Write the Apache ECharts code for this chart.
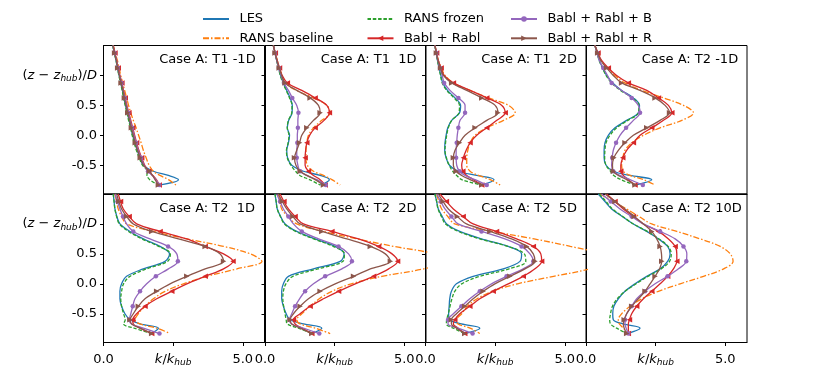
<!DOCTYPE html>
<html>
<head>
<meta charset="utf-8">
<script src="https://cdn.jsdelivr.net/npm/echarts@6/dist/echarts.min.js"></script>
<style>
  html, body { margin: 0; padding: 0; background: #fff; }
  #main { width: 830px; height: 386px; }
</style>
</head>
<body>
<div id="main"></div>
<script>
// heights (z - z_hub)/D at which the profiles were read
const zLevels = [1.5, 1.375, 1.25, 1.125, 1.0, 0.875, 0.75, 0.625, 0.5, 0.375, 0.25, 0.125, 0.0,
  -0.125, -0.25, -0.375, -0.5, -0.6, -0.67, -0.74, -0.83];
// rows of zLevels that carry a marker
const markerRows = [1, 3, 5, 7, 9, 11, 13, 15, 17, 20];

const panelTitles = ["Case A: T1 -1D", "Case A: T1  1D", "Case A: T1  2D", "Case A: T2 -1D",
  "Case A: T2  1D", "Case A: T2  2D", "Case A: T2  5D", "Case A: T2 10D"];
const seriesNames = ["LES", "RANS baseline", "RANS frozen", "Babl + Rabl", "Babl + Rabl + B", "Babl + Rabl + R"];
const xTicks = [0, 2.5, 5];
const yTicks = [-0.5, 0, 0.5, 1.0];

// k/k_hub, one row per panel
const les = [
  [0.33,0.39,0.45,0.5,0.56,0.62,0.68,0.73,0.79,0.85,0.92,0.98,1.05,1.12,1.21,1.31,1.43,1.79,2.33,2.69,1.97],
  [0.3,0.36,0.42,0.49,0.56,0.66,0.78,0.9,0.98,0.97,0.85,0.8,0.88,0.84,0.78,0.81,0.96,1.38,1.98,2.31,1.98],
  [0.34,0.38,0.43,0.49,0.55,0.62,0.79,1.06,1.26,1.22,0.94,0.8,0.74,0.7,0.69,0.74,0.86,1.18,1.84,2.46,2.02],
  [0.32,0.4,0.48,0.6,0.74,0.96,1.28,1.7,1.92,1.88,1.46,1.04,0.8,0.68,0.65,0.65,0.72,0.98,1.58,2.36,1.76],
  [0.35,0.38,0.41,0.48,0.59,0.95,1.43,2.03,2.37,2.21,1.43,0.83,0.65,0.59,0.59,0.65,0.77,0.95,1.31,1.97,1.73],
  [0.36,0.4,0.44,0.56,0.72,1.14,1.8,2.52,2.84,2.7,1.74,0.84,0.66,0.6,0.6,0.66,0.76,0.9,1.38,2.04,1.68],
  [0.34,0.4,0.46,0.6,0.76,1.23,2.01,2.97,3.45,3.39,2.79,1.71,1.11,0.93,0.87,0.85,0.83,0.87,1.29,1.95,1.41],
  [0.44,0.68,0.92,1.3,1.7,2.18,2.6,2.93,3.02,2.93,2.66,2.18,1.76,1.4,1.16,1.0,0.96,0.98,1.34,1.94,1.46]
];
const ransBaseline = [
  [0.35,0.42,0.5,0.56,0.62,0.69,0.76,0.83,0.9,0.98,1.07,1.17,1.26,1.35,1.43,1.53,1.64,1.79,2.03,2.33,2.6],
  [0.3,0.37,0.44,0.52,0.61,0.72,1.12,1.74,2.22,2.34,2.04,1.74,1.56,1.5,1.47,1.47,1.52,1.74,2.1,2.4,2.7],
  [0.34,0.4,0.46,0.57,0.7,1.0,1.6,2.26,2.98,3.22,2.8,2.2,1.78,1.6,1.52,1.48,1.48,1.6,1.9,2.32,2.68],
  [0.32,0.42,0.53,0.76,1.04,1.4,2.0,2.78,3.5,3.86,3.44,2.66,2.06,1.64,1.4,1.32,1.28,1.34,1.58,2.06,2.48],
  [0.41,0.47,0.53,0.65,0.83,1.79,2.99,4.31,5.27,5.69,4.79,3.71,2.87,2.21,1.79,1.49,1.25,1.13,1.31,1.91,2.39],
  [0.48,0.54,0.6,0.82,1.14,2.1,3.3,4.62,6.06,6.5,5.7,4.2,3.1,2.4,1.95,1.62,1.32,1.14,1.26,1.8,2.34],
  [0.4,0.48,0.58,0.8,1.05,2.4,3.9,5.2,6.3,6.6,5.9,4.6,3.3,2.4,1.85,1.5,1.3,1.11,1.17,1.6,1.95],
  [0.5,0.98,1.46,1.9,2.36,3.26,4.1,4.82,5.18,5.28,4.94,4.22,3.38,2.6,2.0,1.58,1.28,1.16,1.2,1.34,1.52]
];
const ransFrozen = [
  [0.33,0.39,0.45,0.5,0.55,0.61,0.67,0.72,0.78,0.84,0.9,0.97,1.03,1.1,1.18,1.28,1.4,1.57,1.56,1.66,1.97],
  [0.3,0.36,0.42,0.48,0.55,0.64,0.76,0.88,0.97,0.96,0.84,0.8,0.86,0.83,0.77,0.8,0.93,1.1,1.25,1.6,1.98],
  [0.34,0.38,0.43,0.48,0.54,0.6,0.76,1.02,1.22,1.2,0.94,0.82,0.76,0.72,0.7,0.75,0.85,0.98,1.12,1.3,2.02],
  [0.32,0.4,0.47,0.59,0.72,0.92,1.24,1.66,1.9,1.88,1.5,1.1,0.86,0.72,0.68,0.67,0.72,0.88,1.0,1.25,1.76],
  [0.35,0.38,0.41,0.47,0.57,0.9,1.38,1.98,2.4,2.3,1.55,0.95,0.72,0.65,0.62,0.65,0.72,0.78,0.72,1.1,1.73],
  [0.36,0.4,0.44,0.55,0.7,1.1,1.75,2.45,2.85,2.8,1.9,1.0,0.75,0.66,0.64,0.67,0.72,0.76,0.8,1.2,1.68],
  [0.34,0.4,0.45,0.57,0.72,1.18,1.95,2.95,3.55,3.6,3.0,1.95,1.3,1.05,0.95,0.88,0.82,0.76,0.75,1.0,1.41],
  [0.48,0.72,0.95,1.32,1.7,2.2,2.62,2.95,3.06,3.0,2.7,2.22,1.8,1.4,1.12,0.95,0.88,0.85,0.88,1.1,1.46]
];
const bablRabl = [
  [0.35,0.41,0.47,0.53,0.59,0.66,0.72,0.78,0.84,0.91,0.98,1.05,1.12,1.19,1.27,1.37,1.48,1.62,1.77,1.9,2.0],
  [0.3,0.37,0.44,0.52,0.62,0.8,1.32,1.8,2.22,2.31,2.12,1.8,1.6,1.5,1.46,1.44,1.44,1.56,1.74,1.98,2.16],
  [0.34,0.4,0.46,0.56,0.67,1.0,1.6,2.2,2.74,2.86,2.56,2.2,1.84,1.6,1.46,1.36,1.3,1.34,1.48,1.72,2.02],
  [0.32,0.43,0.56,0.8,1.1,1.52,2.18,2.6,2.96,3.08,2.78,2.36,1.94,1.7,1.46,1.32,1.25,1.25,1.34,1.52,1.76],
  [0.53,0.61,0.71,0.92,1.19,2.03,2.99,3.65,4.31,4.65,4.31,3.65,2.99,2.45,1.91,1.49,1.19,1.05,1.07,1.31,1.73],
  [0.54,0.68,0.84,1.08,1.38,2.4,3.36,4.08,4.56,4.76,4.44,3.9,3.24,2.64,2.1,1.62,1.26,1.02,1.08,1.32,1.68],
  [0.52,0.75,1.0,1.35,1.71,2.55,3.27,3.87,4.14,4.17,3.93,3.51,2.97,2.43,1.95,1.59,1.23,1.05,1.0,1.17,1.41],
  [0.74,1.04,1.34,1.7,2.06,2.6,2.96,3.2,3.26,3.26,3.14,2.93,2.66,2.36,2.06,1.82,1.64,1.56,1.52,1.52,1.52]
];
const bablRablB = [
  [0.34,0.4,0.47,0.52,0.58,0.65,0.71,0.77,0.83,0.89,0.96,1.03,1.1,1.17,1.25,1.35,1.46,1.6,1.75,1.88,2.0],
  [0.3,0.36,0.42,0.5,0.58,0.68,0.84,0.98,1.14,1.2,1.18,1.18,1.16,1.16,1.14,1.14,1.18,1.26,1.5,1.86,2.18],
  [0.34,0.39,0.44,0.52,0.6,0.67,0.88,1.18,1.42,1.42,1.24,1.18,1.14,1.12,1.1,1.1,1.12,1.22,1.42,1.78,2.2],
  [0.32,0.4,0.48,0.62,0.77,0.92,1.28,1.64,1.88,1.94,1.7,1.44,1.22,1.08,0.98,0.94,0.92,0.98,1.22,1.58,2.04],
  [0.41,0.5,0.59,0.7,0.83,1.07,1.67,2.32,2.63,2.67,2.33,1.88,1.55,1.31,1.13,1.05,0.98,0.93,1.01,1.43,2.01],
  [0.42,0.54,0.66,0.84,1.02,1.32,1.92,2.64,3.0,3.12,2.76,2.16,1.74,1.44,1.24,1.08,0.96,0.88,0.96,1.38,1.95],
  [0.4,0.55,0.7,0.93,1.17,2.01,2.85,3.45,3.75,3.87,3.51,2.91,2.37,1.95,1.59,1.29,1.0,0.81,0.81,1.17,1.69],
  [0.56,0.89,1.22,1.64,2.06,2.66,3.2,3.5,3.62,3.6,3.32,2.93,2.48,2.12,1.82,1.64,1.46,1.4,1.4,1.44,1.52]
];
const bablRablR = [
  [0.34,0.4,0.46,0.51,0.57,0.63,0.7,0.75,0.81,0.87,0.94,1.0,1.07,1.14,1.22,1.32,1.44,1.65,1.76,1.85,1.97],
  [0.3,0.36,0.43,0.51,0.6,0.72,1.14,1.62,1.92,1.98,1.74,1.5,1.32,1.24,1.14,1.06,1.11,1.26,1.5,1.8,2.1],
  [0.34,0.39,0.45,0.54,0.64,0.94,1.48,2.02,2.5,2.6,2.2,1.78,1.42,1.22,1.06,1.0,1.0,1.1,1.3,1.6,2.02],
  [0.32,0.42,0.53,0.74,0.98,1.28,1.94,2.48,2.84,3.0,2.66,2.18,1.7,1.4,1.16,1.0,0.95,0.98,1.16,1.46,1.76],
  [0.47,0.55,0.65,0.83,1.07,1.73,2.69,3.65,4.19,4.31,3.65,2.99,2.39,1.91,1.49,1.25,1.07,0.95,1.01,1.31,1.73],
  [0.48,0.62,0.78,1.0,1.26,2.04,2.94,3.78,4.32,4.5,3.78,3.18,2.52,1.98,1.56,1.26,1.02,0.9,0.96,1.26,1.68],
  [0.46,0.63,0.82,1.14,1.47,2.31,3.09,3.63,3.87,3.93,3.57,3.03,2.49,2.07,1.71,1.41,1.11,0.93,0.93,1.11,1.41],
  [0.68,1.04,1.4,1.73,2.06,2.36,2.54,2.66,2.71,2.72,2.64,2.48,2.3,2.12,1.88,1.64,1.46,1.37,1.34,1.37,1.46]
];

const curves = [les, ransBaseline, ransFrozen, bablRabl, bablRablB, bablRablR];
const curveStyle = [
  { color: "#1f77b4", dash: "solid", symbol: "none", rotate: 0 },
  { color: "#ff7f0e", dash: [6, 2, 1.5, 2], symbol: "none", rotate: 0 },
  { color: "#2ca02c", dash: [3.5, 1.8], symbol: "none", rotate: 0 },
  { color: "#d62728", dash: "solid", symbol: "triangle", rotate: 90 },
  { color: "#9467bd", dash: "solid", symbol: "circle", rotate: 0 },
  { color: "#8c564b", dash: "solid", symbol: "triangle", rotate: -90 },
];

const FONT = "DejaVu Sans";
const colLeft = [103.5, 265, 425.5, 586];
const rowTop = [45.5, 194];
const panelW = 161;
const panelH = 148.5;

const mathRich = {
  n: { fontFamily: FONT, fontSize: 13, color: "#000", lineHeight: 16 },
  i: { fontFamily: FONT, fontSize: 13, color: "#000", fontStyle: "italic", lineHeight: 16 },
  s: { fontFamily: FONT, fontSize: 9, color: "#000", fontStyle: "italic", lineHeight: 10, verticalAlign: "bottom" },
};

let chart = echarts.init(document.getElementById("main"), null, { renderer: "canvas" });

let grids = [], xAxes = [], yAxes = [], series = [], graphics = [];
for (let p = 0; p < 8; p++) {
  const row = Math.floor(p / 4), col = p % 4;
  grids.push({
    left: colLeft[col], top: rowTop[row], width: panelW, height: panelH,
    show: true, borderColor: "#000", borderWidth: 1, containLabel: false,
  });
  xAxes.push({
    gridIndex: p, type: "value", min: 0, max: 5.78,
    splitLine: { show: false },
    axisLine: { show: true, onZero: false, lineStyle: { color: "#000", width: 1 } },
    axisTick: { show: row === 1, customValues: xTicks, length: 3.5, lineStyle: { color: "#000" } },
    axisLabel: {
      show: row === 1, customValues: xTicks, margin: 9, color: "#000",
      fontFamily: FONT, fontSize: 13, lineHeight: 16,
      formatter: (v) => v === 2.5 ? "{i|k}{n|/}{i|k}{s|hub}" : v.toFixed(1),
      rich: mathRich,
    },
  });
  yAxes.push({
    gridIndex: p, type: "value", min: -0.98, max: 1.5,
    splitLine: { show: false },
    axisLine: { show: true, onZero: false, lineStyle: { color: "#000", width: 1 } },
    axisTick: { show: true, customValues: yTicks, length: 3.5, lineStyle: { color: "#000" } },
    axisLabel: {
      show: col === 0, customValues: yTicks, margin: 6.5, color: "#000",
      fontFamily: FONT, fontSize: 13,
      formatter: (v) => v === 1 ? "{n|(}{i|z}{n| \u2212 }{i|z}{s|hub}{n|)/}{i|D}" : v.toFixed(1),
      rich: mathRich,
    },
  });
  graphics.push({
    type: "text", x: colLeft[col] + 55.7, y: rowTop[row] + 14.5, silent: true,
    style: { text: panelTitles[p], fill: "#000", font: "13px '" + FONT + "'", align: "left", verticalAlign: "middle" },
  });
  for (let s = 0; s < 6; s++) {
    const st = curveStyle[s];
    const vals = curves[s][p];
    const data = zLevels.map((z, i) => {
      const item = { value: [vals[i], z] };
      if (st.symbol === "none" || markerRows.indexOf(i) < 0) item.symbol = "none";
      return item;
    });
    series.push({
      type: "line", name: seriesNames[s], xAxisIndex: p, yAxisIndex: p,
      data: data, smooth: 0.35, clip: true,
      symbol: st.symbol, symbolSize: st.symbol === "circle" ? 4.5 : 5.5, symbolRotate: st.rotate,
      showSymbol: true, showAllSymbol: true,
      lineStyle: { color: st.color, width: 1.3, type: st.dash },
      itemStyle: { color: st.color },
      z: 2 + s, silent: true,
    });
  }
}

// legend entries; the plain lines get an invisible centre symbol
const legendItem = (s) => curveStyle[s].symbol === "none"
  ? { name: seriesNames[s], itemStyle: { opacity: 0 } }
  : { name: seriesNames[s] };
const legendBase = {
  orient: "vertical", top: 12, padding: 0, itemWidth: 26, itemHeight: 7, itemGap: 5.3,
  textStyle: { fontFamily: FONT, fontSize: 13, color: "#000", lineHeight: 14, padding: [0, 0, 0, 5.4] },
  selectedMode: false,
};

let options = {
  animation: false,
  backgroundColor: "#fff",
  grid: grids,
  xAxis: xAxes,
  yAxis: yAxes,
  legend: [
    Object.assign({}, legendBase, { left: 202, data: [legendItem(0), legendItem(1)] }),
    Object.assign({}, legendBase, { left: 366.5, data: [legendItem(2), legendItem(3)] }),
    Object.assign({}, legendBase, { left: 510, data: [legendItem(4), legendItem(5)] }),
  ],
  graphic: graphics,
  series: series,
};
chart.setOption(options);
</script>
</body>
</html>
